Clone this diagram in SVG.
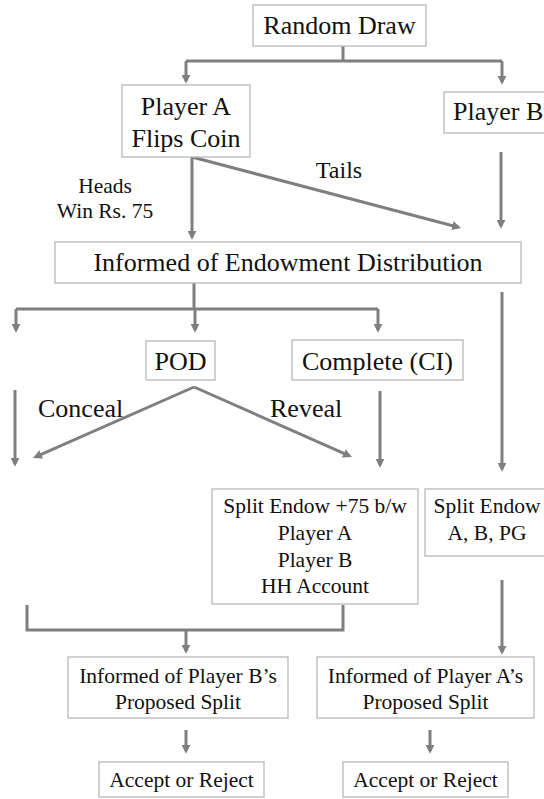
<svg xmlns="http://www.w3.org/2000/svg" width="544" height="799" viewBox="0 0 544 799">
<defs>
<style>
.box{fill:#fff;stroke:#b8b8b8;stroke-width:1.3}
.t{font-family:"Liberation Serif","Times New Roman",serif;fill:#111;text-anchor:middle}
.big{font-size:26px}
.sm{font-size:21.5px}
.c{fill:none;stroke:#7f7f7f;stroke-width:3}
.a{marker-end:url(#ah)}
</style>
<marker id="ah" viewBox="0 0 10 10" refX="7" refY="5" markerWidth="9" markerHeight="9" markerUnits="userSpaceOnUse" orient="auto">
<path d="M0,0 L10,5 L0,10 z" fill="#7f7f7f"/>
</marker>
</defs>
<rect width="544" height="799" fill="#fff"/>
<g id="connectors">
<path class="c" d="M343,46 V61 M186,61 H502"/>
<path class="c a" d="M186,61 V81"/>
<path class="c a" d="M502,61 V82"/>
<path class="c a" d="M192,157 V237"/>
<path class="c a" d="M192,157 L458.4,227.3"/>
<path class="c a" d="M501,152 V226"/>
<path class="c" d="M194,283 V309 M16,309 H378"/>
<path class="c a" d="M16,309 V330"/>
<path class="c a" d="M195,309 V330"/>
<path class="c a" d="M378,309 V330"/>
<path class="c a" d="M194,387 L35.5,456.9"/>
<path class="c a" d="M194,387 L349.5,455.9"/>
<path class="c a" d="M15,390 V464"/>
<path class="c a" d="M380,391 V465"/>
<path class="c a" d="M502,292 V469"/>
<path class="c" d="M27,605 V630 H343 V605"/>
<path class="c a" d="M186,630 V651"/>
<path class="c a" d="M502,580 V652"/>
<path class="c a" d="M186,730 V751"/>
<path class="c a" d="M430,730 V751"/>
</g>
<g id="random-draw"><rect class="box" x="253" y="5" width="173" height="41"/><text class="t big" x="339.5" y="34">Random Draw</text></g>
<g id="player-a"><rect class="box" x="122" y="85" width="128" height="72"/><text class="t big" x="186" y="115">Player A</text><text class="t big" x="186" y="147">Flips Coin</text></g>
<g id="player-b"><rect class="box" x="444" y="92" width="120" height="41"/><text class="t big" x="453" y="120" style="text-anchor:start">Player B</text></g>
<g id="label-heads"><text class="t sm" x="105" y="193">Heads</text><text class="t sm" x="105" y="218">Win Rs. 75</text></g>
<g id="label-tails"><text class="t" x="339" y="178" style="font-size:24px">Tails</text></g>
<g id="informed-endowment"><rect class="box" x="55" y="242" width="466" height="41"/><text class="t big" x="288" y="271">Informed of Endowment Distribution</text></g>
<g id="pod"><rect class="box" x="146" y="341" width="69" height="39"/><text class="t big" x="180.5" y="370">POD</text></g>
<g id="complete"><rect class="box" x="292" y="340" width="171" height="40"/><text class="t big" x="377.5" y="370">Complete (CI)</text></g>
<g id="label-conceal"><text class="t big" x="38" y="417" style="text-anchor:start">Conceal</text></g>
<g id="label-reveal"><text class="t big" x="270" y="417" style="text-anchor:start">Reveal</text></g>
<g id="split-75"><rect class="box" x="212" y="489" width="206" height="115"/><text class="t sm" x="315" y="513">Split Endow +75 b/w</text><text class="t sm" x="315" y="540">Player A</text><text class="t sm" x="315" y="567">Player B</text><text class="t sm" x="315" y="593">HH Account</text></g>
<g id="split-pg"><rect class="box" x="425" y="489" width="140" height="67"/><text class="t sm" x="487" y="513">Split Endow</text><text class="t sm" x="487" y="540">A, B, PG</text></g>
<g id="informed-b"><rect class="box" x="68" y="657" width="220" height="61"/><text class="t sm" x="178" y="683">Informed of Player B’s</text><text class="t sm" x="178" y="709">Proposed Split</text></g>
<g id="informed-a"><rect class="box" x="317" y="657" width="217" height="61"/><text class="t sm" x="425.5" y="683">Informed of Player A’s</text><text class="t sm" x="425.5" y="709">Proposed Split</text></g>
<g id="accept-left"><rect class="box" x="99" y="762" width="165" height="35"/><text class="t sm" x="181.5" y="787">Accept or Reject</text></g>
<g id="accept-right"><rect class="box" x="343" y="762" width="165" height="35"/><text class="t sm" x="425.5" y="787">Accept or Reject</text></g>
</svg>
